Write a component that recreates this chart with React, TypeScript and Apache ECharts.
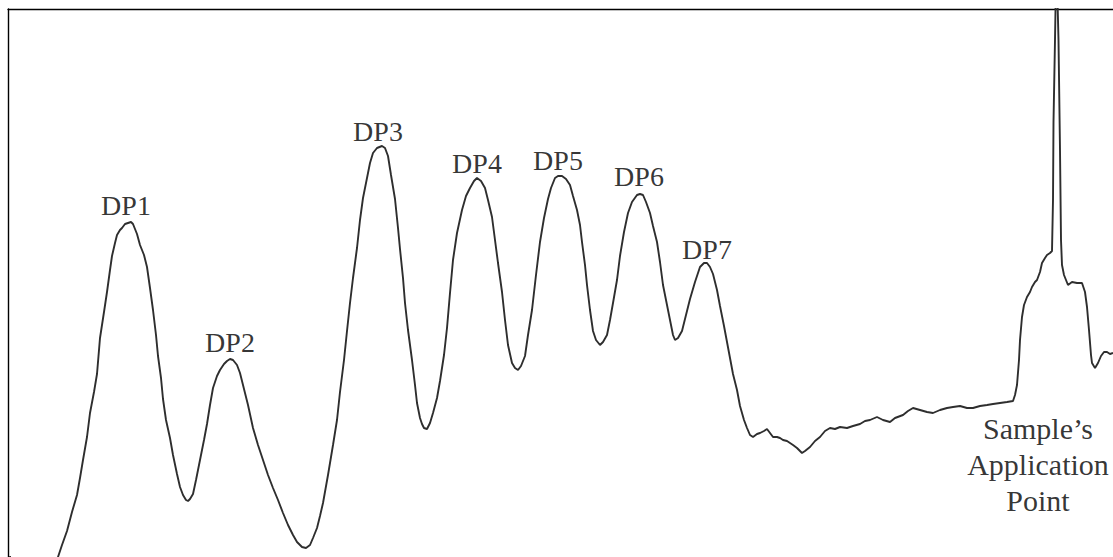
import React, { useEffect, useRef } from "react";
import * as echarts from "echarts";

// Scan position (pixel-like units along the plate) and densitometric signal
const scanPosition: number[] = [
  10, 11, 56, 58, 62, 67, 72, 77, 80, 83, 87, 90, 94, 97, 100, 104, 107, 110, 112, 115,
  117, 120, 122, 125, 128, 131, 133, 137, 140, 144, 147, 150, 153, 156, 158, 161, 163, 166, 170, 173,
  177, 180, 183, 186, 188, 190, 193, 196, 200, 204, 207, 210, 213, 217, 220, 224, 227, 230, 233, 237,
  240, 243, 248, 253, 258, 263, 268, 273, 278, 283, 288, 293, 297, 302, 306, 310, 313, 317, 320, 323,
  328, 333, 337, 340, 344, 347, 350, 353, 357, 360, 363, 367, 370, 373, 377, 382, 385, 388, 391, 395,
  398, 400, 403, 405, 408, 412, 415, 417, 420, 422, 424, 427, 430, 433, 437, 440, 444, 447, 450, 453,
  457, 462, 466, 470, 474, 477, 481, 485, 488, 492, 495, 498, 502, 505, 508, 512, 515, 518, 521, 525,
  528, 532, 536, 540, 544, 548, 551, 555, 558, 562, 566, 570, 573, 577, 580, 582, 585, 587, 590, 593,
  596, 600, 603, 607, 610, 613, 617, 620, 624, 628, 632, 637, 640, 643, 646, 650, 653, 657, 660, 663,
  667, 670, 673, 675, 678, 682, 686, 690, 695, 700, 704, 707, 710, 713, 717, 720, 724, 727, 730, 733,
  737, 740, 744, 747, 750, 753, 757, 760, 764, 767, 770, 773, 777, 780, 783, 787, 790, 793, 797, 800,
  802, 805, 810, 815, 820, 825, 830, 835, 840, 847, 853, 860, 865, 870, 877, 883, 890, 895, 903, 908,
  913, 920, 927, 933, 940, 947, 953, 960, 967, 973, 980, 987, 993, 1000, 1007, 1013, 1015, 1017, 1019, 1020,
  1022, 1024, 1027, 1030, 1032, 1035, 1037, 1040, 1042, 1045, 1047, 1050, 1052, 1053, 1053.5, 1055, 1056, 1057, 1058.5, 1060,
  1061, 1062, 1064, 1068, 1072, 1077, 1082, 1085, 1087, 1089, 1091, 1092, 1095, 1098, 1101, 1104, 1107, 1110, 1113,
];

// trace height (pixel row); converted to signal below
const traceRow: number[] = [
  556, 566, 566, 557, 545, 531, 512, 495, 478, 460, 437, 413, 392, 374, 338, 312, 292, 270, 256, 243,
  235, 230, 228, 224, 223, 222, 224, 234, 245, 255, 267, 288, 310, 335, 356, 378, 399, 420, 438, 455,
  474, 487, 495, 500, 501, 499, 494, 480, 460, 440, 424, 405, 388, 376, 370, 364, 361, 359, 360, 365,
  373, 385, 405, 428, 445, 460, 475, 488, 500, 513, 525, 535, 542, 547, 548, 545, 538, 528, 516, 503,
  475, 445, 420, 392, 360, 331, 303, 278, 248, 220, 198, 178, 163, 153, 148, 146, 148, 156, 175, 199,
  228, 249, 278, 303, 330, 360, 385, 403, 418, 424, 428, 429, 423, 413, 398, 381, 355, 328, 293, 260,
  233, 210, 196, 188, 181, 178, 181, 188, 200, 217, 240, 263, 292, 320, 345, 363, 368, 370, 366, 356,
  335, 310, 275, 242, 218, 199, 188, 178, 176, 176, 179, 185, 196, 210, 225, 242, 265, 285, 310, 331,
  340, 345, 342, 335, 320, 303, 280, 256, 232, 213, 202, 195, 194, 195, 202, 213, 226, 242, 262, 285,
  305, 320, 335, 340, 338, 331, 315, 299, 282, 267, 263, 263, 267, 274, 290, 306, 326, 342, 358, 374,
  390, 406, 420, 428, 435, 437, 434, 433, 431, 429, 433, 437, 437, 438, 440, 441, 443, 445, 448, 451,
  453, 451, 447, 441, 437, 431, 428, 429, 427, 428, 426, 424, 421, 420, 417, 420, 422, 418, 415, 411,
  408, 410, 412, 413, 410, 408, 407, 406, 408, 408, 406, 405, 404, 403, 402, 401, 395, 385, 360, 340,
  317, 305, 297, 292, 287, 282, 280, 272, 263, 258, 255, 253, 251, 200, 122, 40, -20, -20, 40, 150,
  240, 265, 275, 285, 282, 283, 283, 292, 307, 330, 355, 363, 368, 363, 356, 352, 352, 354, 353,
];

const BASE = 557;
const density: number[] = traceRow.map((r) => BASE - r);

const peakNames: string[] = ["DP1", "DP2", "DP3", "DP4", "DP5", "DP6", "DP7"];
const peakLabelX: number[] = [126, 230, 378, 477, 558, 639, 707];
const peakLabelY: number[] = [351.5, 214.5, 425.5, 394, 396.5, 381, 307.5];

const originName = "Sample’s\nApplication\nPoint";
const originLabelX = 1038;
const originLabelY = 93;

const FONT = "'Liberation Serif', 'Times New Roman', serif";

export default function App() {
  const ref = useRef<HTMLDivElement>(null);

  useEffect(() => {
    if (!ref.current) return;
    const chart = echarts.init(ref.current, undefined, { renderer: "svg" });
    const trace = scanPosition.map((x, i) => [x, density[i]]);
    const labelData = peakNames.map((n, i) => ({ name: n, value: [peakLabelX[i], peakLabelY[i]] }));

    chart.setOption({
      animation: false,
      backgroundColor: "#ffffff",
      grid: { left: 8, top: 9, right: 0, bottom: 0, containLabel: false },
      xAxis: {
        type: "value",
        min: 8,
        max: 1113,
        position: "top",
        axisLine: { show: true, onZero: false, lineStyle: { color: "#000", width: 1.4 } },
        axisTick: { show: false },
        axisLabel: { show: false },
        splitLine: { show: false },
      },
      yAxis: {
        type: "value",
        min: 0,
        max: 548,
        position: "left",
        axisLine: { show: true, onZero: false, lineStyle: { color: "#000", width: 1.4 } },
        axisTick: { show: false },
        axisLabel: { show: false },
        splitLine: { show: false },
      },
      series: [
        {
          type: "line",
          data: trace,
          showSymbol: false,
          symbol: "none",
          clip: true,
          lineStyle: { color: "#2e2e2e", width: 1.9 },
          silent: true,
        },
        {
          type: "scatter",
          data: labelData,
          symbolSize: 0,
          silent: true,
          label: {
            show: true,
            position: "inside",
            formatter: "{b}",
            color: "#000",
            fontFamily: FONT,
            fontSize: 28,
            align: "center",
            verticalAlign: "middle",
          },
        },
        {
          type: "scatter",
          data: [{ name: originName, value: [originLabelX, originLabelY] }],
          symbolSize: 0,
          silent: true,
          label: {
            show: true,
            position: "inside",
            formatter: "{b}",
            color: "#000",
            fontFamily: FONT,
            fontSize: 30,
            lineHeight: 36,
            align: "center",
            verticalAlign: "middle",
          },
        },
      ],
    });
    return () => chart.dispose();
  }, []);

  return (
    <div
      ref={ref}
      style={{ position: "absolute", left: 0, top: 0, width: 1113, height: 557 }}
    />
  );
}
